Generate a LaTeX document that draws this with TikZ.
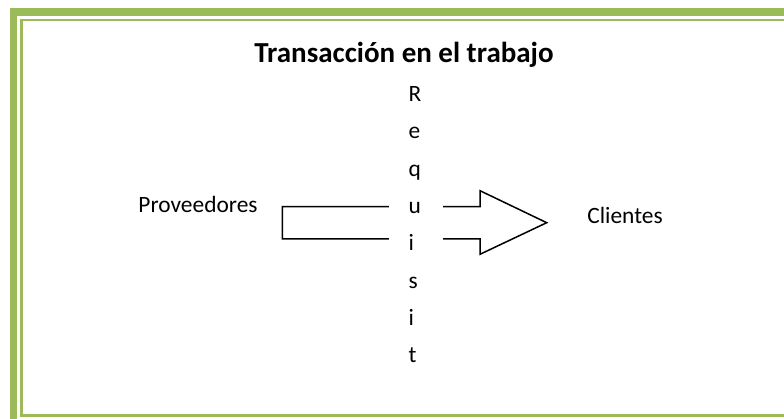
\documentclass[tikz,border=0pt]{standalone}
\usepackage{fontspec}
\setmainfont{Carlito}
\definecolor{verde}{HTML}{9BBB59}
\tikzset{
  texto/.style={font=\fontsize{23.4}{28}\selectfont, inner sep=0},
  titulo/.style={font=\fontsize{29}{34}\selectfont\bfseries, inner sep=0},
  letra/.style={texto, anchor=base west},
}
\begin{document}
\begin{tikzpicture}[x=1pt, y=-1pt]
	\useasboundingbox (0,0) rectangle (784,419); % Rand wie im Original

	\draw[verde, line width=7.5pt] (13.5,12.2) rectangle (800,440);
	\draw[verde, line width=2.4pt] (21.3,20.1) rectangle (792,415.6);

	\node[titulo, anchor=base] (titulo) at (404,63) {Transacción en el trabajo};

	\node[texto, anchor=base] (prov) at (198,213) {Proveedores};
	\node[texto, anchor=base] (cli) at (625,224) {Clientes};

	\draw[line width=1.5pt, line join=miter] (282.3,206.7) -- (480,206.7) -- (480,190.7)
		-- (546.7,222.7) -- (480,254.3) -- (480,239) -- (282.3,239) -- cycle;

	\node[fill=white, minimum width=54pt, minimum height=310pt, inner sep=0] (req) at (416,230) {};
	\foreach \c [count=\i] in {R,e,q,u,i,s,i,t}
		\node[letra] (l\i) at (408.5,{101.7+37.3*(\i-1)}) {\c};

	%\draw[help lines, step=50] (0,0) grid (784,419);
\end{tikzpicture}
\end{document}
